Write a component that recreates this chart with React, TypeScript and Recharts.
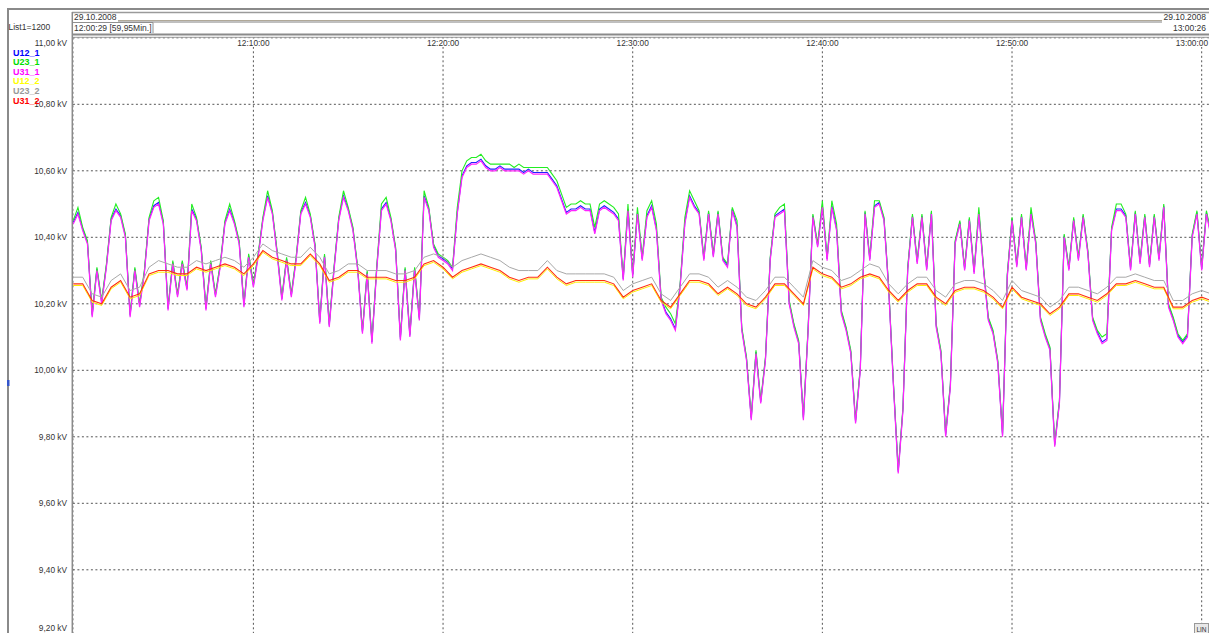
import React from 'react';
import { LineChart, Line, XAxis, YAxis, CartesianGrid } from 'recharts';

// ---- series meta ----
const SERIES_NAMES = ['U12_1', 'U23_1', 'U31_1', 'U12_2', 'U23_2', 'U31_2'];
const LINE_COLORS = ['#2020ff', '#22ee22', '#ff22ff', '#ffee00', '#a8a8a8', '#ff3010'];
const LEGEND_COLORS = ['#0000ff', '#00dd00', '#ff00ff', '#ffff00', '#999999', '#ff0000'];

// sampling grid (minutes after 12:00:00)
const START_1 = 0.5;
const STEP_1 = 0.25;
const START_2 = 0.5;
const STEP_2 = 0.5;

// ---- group 1 (kV), every 15 s ----
const U31_1 = [
  10.44, 10.47, 10.42, 10.38, 10.16, 10.30, 10.20, 10.31, 10.45, 10.48,
  10.46, 10.40, 10.16, 10.30, 10.19, 10.29, 10.45, 10.49, 10.50, 10.44,
  10.18, 10.32, 10.22, 10.32, 10.24, 10.48, 10.45, 10.36, 10.18, 10.32,
  10.22, 10.31, 10.44, 10.48, 10.44, 10.38, 10.19, 10.34, 10.25, 10.34,
  10.45, 10.52, 10.47, 10.35, 10.21, 10.33, 10.22, 10.33, 10.47, 10.50,
  10.46, 10.37, 10.14, 10.34, 10.13, 10.30, 10.45, 10.52, 10.48, 10.42,
  10.30, 10.11, 10.29, 10.08, 10.30, 10.48, 10.50, 10.45, 10.36, 10.09,
  10.30, 10.10, 10.30, 10.15, 10.52, 10.48, 10.37, 10.34, 10.33, 10.32,
  10.30, 10.47, 10.58, 10.61, 10.62, 10.62, 10.63, 10.61, 10.60, 10.60,
  10.61, 10.60, 10.60, 10.60, 10.60, 10.59, 10.60, 10.59, 10.59, 10.59,
  10.59, 10.57, 10.55, 10.51, 10.47, 10.48, 10.48, 10.49, 10.48, 10.48,
  10.41, 10.48, 10.49, 10.48, 10.47, 10.45, 10.27, 10.48, 10.28, 10.47,
  10.33, 10.46, 10.49, 10.42, 10.21, 10.17, 10.15, 10.12, 10.25, 10.44,
  10.52, 10.49, 10.47, 10.33, 10.47, 10.34, 10.47, 10.33, 10.31, 10.48,
  10.43, 10.12, 10.03, 9.85, 10.05, 9.90, 10.03, 10.33, 10.46, 10.47,
  10.48, 10.20, 10.13, 10.08, 9.85, 10.12, 10.46, 10.37, 10.49, 10.33,
  10.49, 10.42, 10.17, 10.12, 10.05, 9.84, 10.00, 10.47, 10.33, 10.49,
  10.50, 10.45, 10.24, 9.95, 9.69, 9.88, 10.30, 10.46, 10.32, 10.46,
  10.30, 10.47, 10.13, 10.05, 9.80, 9.95, 10.38, 10.44, 10.30, 10.45,
  10.29, 10.47, 10.30, 10.15, 10.11, 10.02, 9.80, 10.28, 10.45, 10.31,
  10.46, 10.30, 10.47, 10.38, 10.15, 10.10, 10.06, 9.77, 9.90, 10.40,
  10.30, 10.45, 10.33, 10.46, 10.35, 10.15, 10.11, 10.08, 10.09, 10.42,
  10.48, 10.48, 10.46, 10.30, 10.47, 10.32, 10.46, 10.31, 10.46, 10.33,
  10.49, 10.19, 10.15, 10.10, 10.08, 10.10, 10.40, 10.47, 10.30, 10.47, 10.40,
];

const U23_1 = [
  10.45, 10.49, 10.43, 10.39, 10.17, 10.31, 10.21, 10.32, 10.46, 10.50,
  10.47, 10.41, 10.17, 10.31, 10.20, 10.30, 10.46, 10.51, 10.52, 10.45,
  10.19, 10.33, 10.23, 10.33, 10.25, 10.50, 10.46, 10.37, 10.19, 10.33,
  10.23, 10.32, 10.45, 10.50, 10.45, 10.39, 10.20, 10.35, 10.26, 10.35,
  10.46, 10.54, 10.48, 10.36, 10.22, 10.34, 10.23, 10.34, 10.48, 10.52,
  10.47, 10.38, 10.15, 10.35, 10.14, 10.31, 10.46, 10.54, 10.49, 10.43,
  10.31, 10.12, 10.30, 10.09, 10.31, 10.50, 10.52, 10.46, 10.37, 10.10,
  10.31, 10.11, 10.31, 10.16, 10.54, 10.49, 10.38, 10.35, 10.34, 10.33,
  10.31, 10.49, 10.60, 10.63, 10.64, 10.64, 10.65, 10.63, 10.62, 10.62,
  10.62, 10.62, 10.62, 10.61, 10.62, 10.61, 10.61, 10.61, 10.61, 10.61,
  10.61, 10.59, 10.57, 10.53, 10.49, 10.50, 10.50, 10.51, 10.50, 10.50,
  10.43, 10.50, 10.51, 10.50, 10.49, 10.47, 10.28, 10.50, 10.29, 10.49,
  10.34, 10.48, 10.51, 10.44, 10.22, 10.19, 10.17, 10.14, 10.26, 10.46,
  10.54, 10.51, 10.48, 10.34, 10.48, 10.35, 10.48, 10.34, 10.32, 10.49,
  10.45, 10.13, 10.04, 9.86, 10.06, 9.91, 10.04, 10.34, 10.47, 10.49,
  10.50, 10.21, 10.14, 10.09, 9.86, 10.13, 10.47, 10.38, 10.51, 10.34,
  10.51, 10.44, 10.18, 10.13, 10.06, 9.85, 10.01, 10.48, 10.34, 10.51,
  10.51, 10.46, 10.25, 9.96, 9.70, 9.89, 10.31, 10.47, 10.33, 10.47,
  10.31, 10.48, 10.14, 10.06, 9.81, 9.96, 10.39, 10.45, 10.31, 10.46,
  10.30, 10.49, 10.31, 10.16, 10.12, 10.03, 9.81, 10.29, 10.46, 10.32,
  10.47, 10.31, 10.49, 10.39, 10.16, 10.11, 10.07, 9.78, 9.91, 10.41,
  10.31, 10.46, 10.34, 10.47, 10.36, 10.16, 10.12, 10.10, 10.11, 10.43,
  10.50, 10.50, 10.47, 10.31, 10.48, 10.33, 10.47, 10.32, 10.47, 10.34,
  10.50, 10.20, 10.16, 10.11, 10.09, 10.11, 10.41, 10.48, 10.31, 10.48, 10.41,
];

const U12_1 = [
  10.445, 10.475, 10.425, 10.385, 10.165, 10.305, 10.205, 10.315, 10.455, 10.485,
  10.465, 10.405, 10.165, 10.305, 10.195, 10.295, 10.455, 10.495, 10.505, 10.445,
  10.185, 10.325, 10.225, 10.325, 10.245, 10.485, 10.455, 10.365, 10.185, 10.325,
  10.225, 10.315, 10.445, 10.485, 10.445, 10.385, 10.195, 10.345, 10.255, 10.345,
  10.455, 10.525, 10.475, 10.355, 10.215, 10.335, 10.225, 10.335, 10.475, 10.505,
  10.465, 10.375, 10.145, 10.345, 10.135, 10.305, 10.455, 10.525, 10.485, 10.425,
  10.305, 10.115, 10.295, 10.085, 10.305, 10.485, 10.505, 10.455, 10.365, 10.095,
  10.305, 10.105, 10.305, 10.155, 10.525, 10.485, 10.375, 10.345, 10.335, 10.325,
  10.305, 10.475, 10.585, 10.615, 10.625, 10.625, 10.635, 10.615, 10.605, 10.605,
  10.615, 10.605, 10.605, 10.605, 10.605, 10.595, 10.605, 10.595, 10.595, 10.595,
  10.595, 10.575, 10.555, 10.515, 10.475, 10.485, 10.485, 10.495, 10.485, 10.485,
  10.415, 10.485, 10.495, 10.485, 10.475, 10.455, 10.275, 10.485, 10.285, 10.475,
  10.335, 10.465, 10.495, 10.425, 10.215, 10.175, 10.155, 10.125, 10.255, 10.445,
  10.525, 10.495, 10.475, 10.335, 10.475, 10.345, 10.475, 10.335, 10.315, 10.485,
  10.435, 10.125, 10.035, 9.855, 10.055, 9.905, 10.035, 10.335, 10.465, 10.475,
  10.485, 10.205, 10.135, 10.085, 9.855, 10.125, 10.465, 10.375, 10.495, 10.335,
  10.495, 10.425, 10.175, 10.125, 10.055, 9.845, 10.005, 10.475, 10.335, 10.495,
  10.505, 10.455, 10.245, 9.955, 9.695, 9.885, 10.305, 10.465, 10.325, 10.465,
  10.305, 10.475, 10.135, 10.055, 9.805, 9.955, 10.385, 10.445, 10.305, 10.455,
  10.295, 10.475, 10.305, 10.155, 10.115, 10.025, 9.805, 10.285, 10.455, 10.315,
  10.465, 10.305, 10.475, 10.385, 10.155, 10.105, 10.065, 9.775, 9.905, 10.405,
  10.305, 10.455, 10.335, 10.465, 10.355, 10.155, 10.115, 10.085, 10.095, 10.425,
  10.485, 10.485, 10.465, 10.305, 10.475, 10.325, 10.465, 10.315, 10.465, 10.335,
  10.495, 10.195, 10.155, 10.105, 10.085, 10.105, 10.405, 10.475, 10.305, 10.475, 10.405,
];

// ---- group 2 (kV), every 30 s ----
const U31_2 = [
  10.26, 10.26, 10.21, 10.20, 10.25, 10.27, 10.22, 10.23, 10.29, 10.30,
  10.30, 10.29, 10.29, 10.31, 10.30, 10.31, 10.32, 10.31, 10.29, 10.32,
  10.36, 10.34, 10.33, 10.32, 10.32, 10.35, 10.32, 10.27, 10.28, 10.30,
  10.30, 10.28, 10.28, 10.28, 10.27, 10.27, 10.28, 10.32, 10.33, 10.31,
  10.28, 10.30, 10.31, 10.32, 10.31, 10.30, 10.28, 10.27, 10.28, 10.28,
  10.31, 10.28, 10.26, 10.27, 10.27, 10.27, 10.27, 10.26, 10.22, 10.24,
  10.25, 10.26, 10.21, 10.19, 10.23, 10.27, 10.27, 10.26, 10.23, 10.25,
  10.23, 10.20, 10.19, 10.22, 10.26, 10.26, 10.23, 10.20, 10.31, 10.29,
  10.28, 10.25, 10.26, 10.28, 10.29, 10.28, 10.24, 10.21, 10.24, 10.26,
  10.26, 10.22, 10.20, 10.24, 10.25, 10.25, 10.24, 10.22, 10.19, 10.25,
  10.22, 10.21, 10.20, 10.17, 10.19, 10.23, 10.23, 10.22, 10.21, 10.23,
  10.26, 10.26, 10.27, 10.26, 10.25, 10.25, 10.19, 10.19, 10.21, 10.22, 10.21,
];

const U23_2 = [
  10.28, 10.28, 10.23, 10.22, 10.27, 10.29, 10.24, 10.25, 10.31, 10.33,
  10.32, 10.31, 10.31, 10.33, 10.32, 10.33, 10.34, 10.33, 10.31, 10.34,
  10.38, 10.36, 10.35, 10.34, 10.34, 10.37, 10.34, 10.29, 10.30, 10.32,
  10.32, 10.30, 10.30, 10.30, 10.29, 10.29, 10.30, 10.34, 10.35, 10.34,
  10.31, 10.33, 10.34, 10.35, 10.34, 10.33, 10.31, 10.30, 10.30, 10.30,
  10.33, 10.30, 10.29, 10.29, 10.29, 10.29, 10.29, 10.28, 10.24, 10.26,
  10.27, 10.28, 10.23, 10.21, 10.25, 10.29, 10.29, 10.28, 10.25, 10.27,
  10.25, 10.22, 10.21, 10.24, 10.28, 10.28, 10.25, 10.22, 10.33, 10.31,
  10.30, 10.27, 10.28, 10.30, 10.32, 10.31, 10.26, 10.23, 10.26, 10.28,
  10.28, 10.24, 10.22, 10.26, 10.27, 10.27, 10.26, 10.24, 10.21, 10.27,
  10.24, 10.23, 10.22, 10.19, 10.21, 10.25, 10.25, 10.24, 10.23, 10.25,
  10.28, 10.28, 10.29, 10.28, 10.27, 10.27, 10.21, 10.21, 10.23, 10.24, 10.23,
];

const U12_2 = [
  10.255, 10.255, 10.205, 10.195, 10.245, 10.265, 10.215, 10.225, 10.285, 10.295,
  10.295, 10.285, 10.285, 10.305, 10.295, 10.305, 10.315, 10.305, 10.285, 10.315,
  10.355, 10.335, 10.325, 10.315, 10.315, 10.345, 10.315, 10.265, 10.275, 10.295,
  10.295, 10.275, 10.275, 10.275, 10.265, 10.265, 10.275, 10.315, 10.325, 10.305,
  10.275, 10.295, 10.305, 10.315, 10.305, 10.295, 10.275, 10.265, 10.275, 10.275,
  10.305, 10.275, 10.255, 10.265, 10.265, 10.265, 10.265, 10.255, 10.215, 10.235,
  10.245, 10.255, 10.205, 10.185, 10.225, 10.265, 10.265, 10.255, 10.225, 10.245,
  10.225, 10.195, 10.185, 10.215, 10.255, 10.255, 10.225, 10.195, 10.305, 10.285,
  10.275, 10.245, 10.255, 10.275, 10.285, 10.275, 10.235, 10.205, 10.235, 10.255,
  10.255, 10.215, 10.195, 10.235, 10.245, 10.245, 10.235, 10.215, 10.185, 10.245,
  10.215, 10.205, 10.195, 10.165, 10.185, 10.225, 10.225, 10.215, 10.205, 10.225,
  10.255, 10.255, 10.265, 10.255, 10.245, 10.245, 10.185, 10.185, 10.205, 10.215, 10.205,
];

// ---- axes ----
const X_DOMAIN = [29 / 60, 60 + 26 / 60];
const X_TICKS = [10, 20, 30, 40, 50, 60];
const X_TICK_LABELS = ['12:10:00', '12:20:00', '12:30:00', '12:40:00', '12:50:00', '13:00:00'];
const Y_DOMAIN = [9.2, 11.0];
const Y_TICKS = [9.2, 9.4, 9.6, 9.8, 10.0, 10.2, 10.4, 10.6, 10.8, 11.0];
const Y_TICK_LABELS = ['9,20 kV', '9,40 kV', '9,60 kV', '9,80 kV', '10,00 kV', '10,20 kV', '10,40 kV', '10,60 kV', '10,80 kV', '11,00 kV'];

const HEADER_LEFT_DATE = '29.10.2008';
const HEADER_LEFT_TIME = '12:00:29 [59,95Min.]';
const HEADER_RIGHT_DATE = '29.10.2008';
const HEADER_RIGHT_TIME = '13:00:26';
const LIST_LABEL = 'List1=1200';

const rows1 = U31_1.map((_, i) => ({
  t: START_1 + i * STEP_1,
  U12_1: U12_1[i],
  U23_1: U23_1[i],
  U31_1: U31_1[i],
}));
const rows2 = U31_2.map((_, i) => ({
  t: START_2 + i * STEP_2,
  U12_2: U12_2[i],
  U23_2: U23_2[i],
  U31_2: U31_2[i],
}));

const FONT = '"Liberation Sans", Arial, sans-serif';

const renderXTick = (props: any) => {
  const { x, payload } = props;
  const idx = X_TICKS.findIndex((v) => Math.abs(v - payload.value) < 1e-6);
  const label = X_TICK_LABELS[idx] ?? '';
  const overflow = x + 16 > 1208;
  return (
    <g key={`xt-${payload.value}`}>
      <rect x={overflow ? 1174 : x - 17} y={38.5} width={34} height={8.5} fill="#ffffff" />
      <text
        x={overflow ? 1208 : x}
        y={45.8}
        textAnchor={overflow ? 'end' : 'middle'}
        fontSize={8.3}
        fontFamily={FONT}
        fill="#333"
      >
        {label}
      </text>
    </g>
  );
};

const renderYTick = (props: any) => {
  const { y, payload } = props;
  const idx = Y_TICKS.findIndex((v) => Math.abs(v - payload.value) < 1e-6);
  const label = Y_TICK_LABELS[idx] ?? '';
  const cy = Math.min(Math.max(y, 42.7), 627.5);
  return (
    <text key={`yt-${payload.value}`} x={67} y={cy + 3} textAnchor="end" fontSize={8.3} fontFamily={FONT} fill="#333">
      {label}
    </text>
  );
};

const Frame = () => (
  <svg
    width={1209}
    height={633}
    style={{ position: 'absolute', left: 0, top: 0, pointerEvents: 'none' }}
  >
    {/* outer frame */}
    <line x1={7} y1={9} x2={1209} y2={9} stroke="#8a8a8a" strokeWidth={2} />
    <line x1={8} y1={9} x2={8} y2={633} stroke="#8a8a8a" strokeWidth={2} />
    {/* header box */}
    <line x1={72} y1={12.5} x2={1209} y2={12.5} stroke="#9a9a9a" strokeWidth={1.5} />
    <line x1={118} y1={20.5} x2={1162} y2={20.5} stroke="#b0a898" strokeWidth={1} />
    <line x1={118} y1={22} x2={1162} y2={22} stroke="#808080" strokeWidth={1} />
    <line x1={72} y1={22.5} x2={153} y2={22.5} stroke="#909090" strokeWidth={1} />
    <line x1={153} y1={22.5} x2={153} y2={33} stroke="#909090" strokeWidth={1} />
    <line x1={72} y1={34.5} x2={1209} y2={34.5} stroke="#8a8a8a" strokeWidth={2} />
    <line x1={72} y1={37.3} x2={1209} y2={37.3} stroke="#9a9a9a" strokeWidth={1} />
    {/* plot left border */}
    <line x1={72.3} y1={12} x2={72.3} y2={633} stroke="#8a8a8a" strokeWidth={1.5} />
    {/* header texts */}
    <text x={74} y={19.5} fontSize={8.5} fontFamily={FONT} fill="#333">{HEADER_LEFT_DATE}</text>
    <text x={74} y={31} fontSize={8.5} fontFamily={FONT} fill="#333">{HEADER_LEFT_TIME}</text>
    <text x={1206} y={19.5} textAnchor="end" fontSize={8.5} fontFamily={FONT} fill="#333">{HEADER_RIGHT_DATE}</text>
    <text x={1206} y={31} textAnchor="end" fontSize={8.5} fontFamily={FONT} fill="#333">{HEADER_RIGHT_TIME}</text>
    {/* list label */}
    <text x={8.5} y={29.5} fontSize={8.5} fontFamily={FONT} fill="#333">{LIST_LABEL}</text>
    {/* legend */}
    {SERIES_NAMES.map((n, i) => (
      <text
        key={n}
        x={13}
        y={55.5 + i * 9.6}
        fontSize={9}
        fontWeight="bold"
        fontFamily={FONT}
        fill={LEGEND_COLORS[i]}
      >
        {n}
      </text>
    ))}
    {/* small marker on left border */}
    <rect x={7} y={380} width={2.5} height={6} fill="#3355cc" />
    {/* LIN box */}
    <rect x={1194.5} y={623.5} width={14} height={10} fill="#e8e8e8" stroke="#999" strokeWidth={1} />
    <text x={1201.5} y={631.5} textAnchor="middle" fontSize={6.5} fontFamily={FONT} fill="#333">LIN</text>
  </svg>
);

export default function App() {
  return (
    <div
      style={{
        position: 'absolute',
        left: 0,
        top: 0,
        width: 1209,
        height: 633,
        overflow: 'hidden',
        background: '#ffffff',
      }}
    >
      <LineChart
        width={1212}
        height={640}
        margin={{ top: 27.8, right: 2.1, bottom: 3.7, left: 0 }}
      >
        <CartesianGrid stroke="#555" strokeDasharray="2 2.5" strokeWidth={1} />
        <XAxis
          type="number"
          dataKey="t"
          domain={X_DOMAIN}
          ticks={X_TICKS}
          orientation="top"
          height={10}
          axisLine={false}
          tickLine={false}
          tick={renderXTick}
          interval={0}
          allowDataOverflow
        />
        <YAxis
          type="number"
          domain={Y_DOMAIN}
          ticks={Y_TICKS}
          width={72.9}
          axisLine={false}
          tickLine={false}
          tick={renderYTick}
          interval={0}
          allowDataOverflow
        />
        <Line data={rows1} dataKey="U12_1" name="U12_1" stroke={LINE_COLORS[0]} strokeWidth={1.1} dot={false} activeDot={false} isAnimationActive={false} />
        <Line data={rows1} dataKey="U23_1" name="U23_1" stroke={LINE_COLORS[1]} strokeWidth={1.1} dot={false} activeDot={false} isAnimationActive={false} />
        <Line data={rows1} dataKey="U31_1" name="U31_1" stroke={LINE_COLORS[2]} strokeWidth={1.2} dot={false} activeDot={false} isAnimationActive={false} />
        <Line data={rows2} dataKey="U12_2" name="U12_2" stroke={LINE_COLORS[3]} strokeWidth={1} dot={false} activeDot={false} isAnimationActive={false} />
        <Line data={rows2} dataKey="U23_2" name="U23_2" stroke={LINE_COLORS[4]} strokeWidth={1} dot={false} activeDot={false} isAnimationActive={false} />
        <Line data={rows2} dataKey="U31_2" name="U31_2" stroke={LINE_COLORS[5]} strokeWidth={1.1} dot={false} activeDot={false} isAnimationActive={false} />
      </LineChart>
      <Frame />
    </div>
  );
}
